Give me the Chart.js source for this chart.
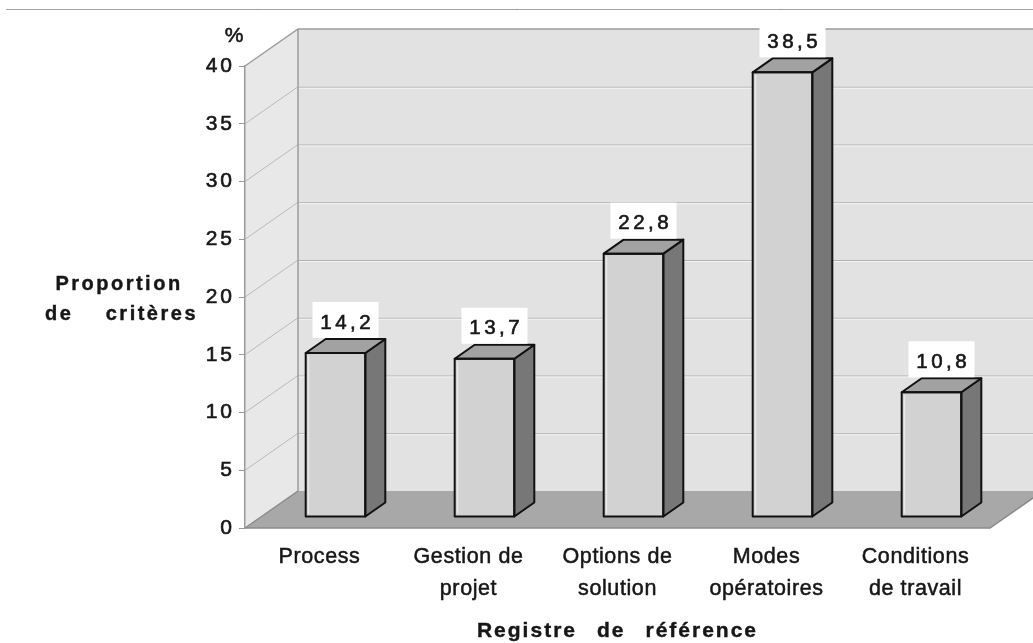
<!DOCTYPE html>
<html>
<head>
<meta charset="utf-8">
<script src="https://cdn.jsdelivr.net/npm/chart.js@4"></script>
<style>
html,body{margin:0;padding:0;background:#fff;}
#wrap{width:1033px;height:643px;position:relative;}
</style>
</head>
<body>
<div id="wrap"><canvas id="c"></canvas></div>
<script>
// ---- data ----
const categories = [['Process'], ['Gestion de', 'projet'], ['Options de', 'solution'], ['Modes', 'opératoires'], ['Conditions', 'de travail']];
const values = [14.2, 13.7, 22.8, 38.5, 10.8];
const valueLabels = ['14,2', '13,7', '22,8', '38,5', '10,8'];
const yMin = 0;
const yMax = 40;
const yStep = 5;
const yUnit = '%';
const yTitleLines = [['Proportion'], ['de', 'critères']];
const xTitle = 'Registre de référence';

// ---- style constants ----
const FONT = '"Liberation Sans", Arial, Helvetica, sans-serif';
const TEXT = '#161616';
const WALL_DX = 53, WALL_DY = -37;     // depth of the 3D box
const BAR_SHIFT_X = 16, BAR_SHIFT_Y = -11; // bars sit a bit behind the front plane
const BAR_DX = 20, BAR_DY = -14;       // bar depth

function poly(ctx, pts) {
  ctx.beginPath();
  ctx.moveTo(pts[0][0], pts[0][1]);
  for (let i = 1; i < pts.length; i++) ctx.lineTo(pts[i][0], pts[i][1]);
  ctx.closePath();
}
function heavyText(ctx, s, x, y, w) {
  ctx.lineWidth = w;
  ctx.strokeStyle = ctx.fillStyle;
  ctx.strokeText(s, x, y);
  ctx.fillText(s, x, y);
}

const threeD = {
  id: 'threeD',
  beforeDraw(chart) {
    const ctx = chart.ctx;
    const a = chart.chartArea;
    const y = chart.scales.y;
    const L = a.left, R = a.right, T = y.getPixelForValue(yMax), B = y.getPixelForValue(yMin);
    ctx.save();
    ctx.fillStyle = '#fff';
    ctx.fillRect(0, 0, chart.width, chart.height);
    // scanned page rule at the top
    ctx.strokeStyle = '#a0a0a0';
    ctx.lineWidth = 1;
    ctx.beginPath(); ctx.moveTo(6, 9.5); ctx.lineTo(chart.width, 9.5); ctx.stroke();

    // back wall
    ctx.fillStyle = '#e2e2e2';
    poly(ctx, [[L + WALL_DX, T + WALL_DY], [R + WALL_DX, T + WALL_DY], [R + WALL_DX, B + WALL_DY], [L + WALL_DX, B + WALL_DY]]);
    ctx.fill();
    // side wall
    ctx.fillStyle = '#e8e8e8';
    poly(ctx, [[L, T], [L + WALL_DX, T + WALL_DY], [L + WALL_DX, B + WALL_DY], [L, B]]);
    ctx.fill();
    // floor
    ctx.fillStyle = '#a8a8a8';
    poly(ctx, [[L, B], [R, B], [R + WALL_DX, B + WALL_DY], [L + WALL_DX, B + WALL_DY]]);
    ctx.fill();

    // gridlines on the walls
    y.ticks.forEach(t => {
      if (t.value <= yMin || t.value >= yMax) return;
      const py = y.getPixelForValue(t.value);
      ctx.lineWidth = 1;
      ctx.strokeStyle = '#b0b0b0';
      ctx.beginPath(); ctx.moveTo(L + WALL_DX, py + WALL_DY + 0.5); ctx.lineTo(R + WALL_DX, py + WALL_DY + 0.5); ctx.stroke();
      ctx.strokeStyle = '#f4f4f4';
      ctx.beginPath(); ctx.moveTo(L + WALL_DX, py + WALL_DY + 1.5); ctx.lineTo(R + WALL_DX, py + WALL_DY + 1.5); ctx.stroke();
      ctx.strokeStyle = '#bababa';
      ctx.beginPath(); ctx.moveTo(L, py); ctx.lineTo(L + WALL_DX, py + WALL_DY); ctx.stroke();
    });

    // box edges
    ctx.strokeStyle = '#9c9c9c';
    ctx.lineWidth = 1.5;
    ctx.beginPath();
    ctx.moveTo(L, T); ctx.lineTo(L + WALL_DX, T + WALL_DY); ctx.lineTo(R + WALL_DX, T + WALL_DY);
    ctx.moveTo(L + WALL_DX, T + WALL_DY); ctx.lineTo(L + WALL_DX, B + WALL_DY);
    ctx.stroke();
    ctx.strokeStyle = '#8a8a8a';
    ctx.beginPath();
    ctx.moveTo(L, B); ctx.lineTo(R, B); ctx.lineTo(R + WALL_DX, B + WALL_DY);
    ctx.moveTo(L, B); ctx.lineTo(L + WALL_DX, B + WALL_DY);
    ctx.stroke();

    // unit "%"
    ctx.fillStyle = TEXT;
    ctx.font = '21px ' + FONT;
    ctx.textAlign = 'center';
    ctx.textBaseline = 'middle';
    heavyText(ctx, yUnit, 234, T - 30, 0.6);

    // y title
    ctx.font = 'bold 20px ' + FONT;
    ctx.letterSpacing = '2.5px';
    ctx.textBaseline = 'alphabetic';
    ctx.textAlign = 'center';
    heavyText(ctx, yTitleLines[0].join(' '), 119, 290, 0.4);
    ctx.textAlign = 'left';
    heavyText(ctx, yTitleLines[1][0], 45, 320, 0.4);
    ctx.textAlign = 'right';
    heavyText(ctx, yTitleLines[1][1], 198, 320, 0.4);

    // x title (wide word spacing)
    ctx.font = 'bold 21px ' + FONT;
    ctx.letterSpacing = '2px';
    ctx.textAlign = 'left';
    const words = xTitle.split(' ');
    const gap = 20;
    const widths = words.map(w => ctx.measureText(w).width);
    const total = widths.reduce((s, w) => s + w, 0) + gap * (words.length - 1);
    let xx = (L + R) / 2 - total / 2;
    words.forEach((w, i) => { heavyText(ctx, w, xx, 637, 0.4); xx += widths[i] + gap; });
    ctx.restore();
    ctx.letterSpacing = '0.6px'; // for the category labels
  },
  beforeDatasetsDraw(chart) {
    chart.ctx.save();
    chart.ctx.translate(BAR_SHIFT_X, BAR_SHIFT_Y);
  },
  afterDatasetsDraw(chart) {
    const ctx = chart.ctx;
    const meta = chart.getDatasetMeta(0);
    ctx.lineJoin = 'round';
    meta.data.forEach(bar => {
      const p = bar.getProps(['x', 'y', 'base', 'width'], true);
      const l = p.x - p.width / 2, r = p.x + p.width / 2;
      ctx.lineWidth = 2;
      ctx.strokeStyle = '#111';
      ctx.fillStyle = '#777777';
      poly(ctx, [[r, p.y], [r + BAR_DX, p.y + BAR_DY], [r + BAR_DX, p.base + BAR_DY], [r, p.base]]);
      ctx.fill(); ctx.stroke();
      ctx.fillStyle = '#a2a2a2';
      poly(ctx, [[l, p.y], [r, p.y], [r + BAR_DX, p.y + BAR_DY], [l + BAR_DX, p.y + BAR_DY]]);
      ctx.fill(); ctx.stroke();
      ctx.strokeStyle = '#ededed';
      ctx.lineWidth = 1;
      ctx.beginPath(); ctx.moveTo(l + 3, p.y + 3); ctx.lineTo(l + 3, p.base - 3); ctx.stroke();
      ctx.strokeStyle = '#111';
      ctx.lineWidth = 2;
      ctx.strokeRect(l, p.y, p.width, p.base - p.y);
    });
    ctx.restore();

    // value labels in white boxes
    ctx.save();
    ctx.font = '20.5px ' + FONT;
    ctx.letterSpacing = '3.5px';
    ctx.textAlign = 'center';
    ctx.textBaseline = 'middle';
    meta.data.forEach((bar, i) => {
      const p = bar.getProps(['x', 'y'], true);
      const cx = p.x + BAR_SHIFT_X + BAR_DX / 2;
      const backTop = p.y + BAR_SHIFT_Y + BAR_DY;
      ctx.fillStyle = '#ffffff';
      ctx.fillRect(cx - 33, backTop - 37, 66, 36);
      ctx.fillStyle = TEXT;
      heavyText(ctx, valueLabels[i], cx + 1.75, backTop - 16, 0.6);
    });
    ctx.restore();
    ctx.letterSpacing = '3px'; // for the y tick labels (drawn after datasets)
  }
};

new Chart(document.getElementById('c'), {
  type: 'bar',
  data: {
    labels: categories,
    datasets: [{
      data: values,
      backgroundColor: '#d2d2d2',
      borderColor: '#111',
      borderWidth: 0,
      barPercentage: 0.4,
      categoryPercentage: 1.0
    }]
  },
  options: {
    responsive: true,
    maintainAspectRatio: false,
    animation: false,
    events: [],
    layout: { padding: { top: 66, right: 43, left: 0, bottom: 0 } },
    plugins: { legend: { display: false }, tooltip: { enabled: false }, title: { display: false } },
    scales: {
      x: {
        grid: { display: false },
        border: { display: false },
        afterFit(scale) { scale.height = 115; },
        ticks: {
          color: TEXT,
          textStrokeColor: TEXT,
          textStrokeWidth: 0.5,
          padding: 5,
          maxRotation: 0,
          autoSkip: false,
          font: { family: FONT, size: 21.5, lineHeight: 1.5 }
        }
      },
      y: {
        min: yMin,
        max: yMax,
        afterFit(scale) { scale.width = 245; },
        grid: { drawOnChartArea: false, drawTicks: true, tickLength: 6, color: '#9a9a9a', z: 1 },
        border: { display: true, color: '#9a9a9a', width: 1.5, z: 1 },
        ticks: {
          stepSize: yStep,
          color: TEXT,
          textStrokeColor: TEXT,
          textStrokeWidth: 0.6,
          padding: 4,
          z: 1,
          font: { family: FONT, size: 21 }
        }
      }
    }
  },
  plugins: [threeD]
});
</script>
</body>
</html>
